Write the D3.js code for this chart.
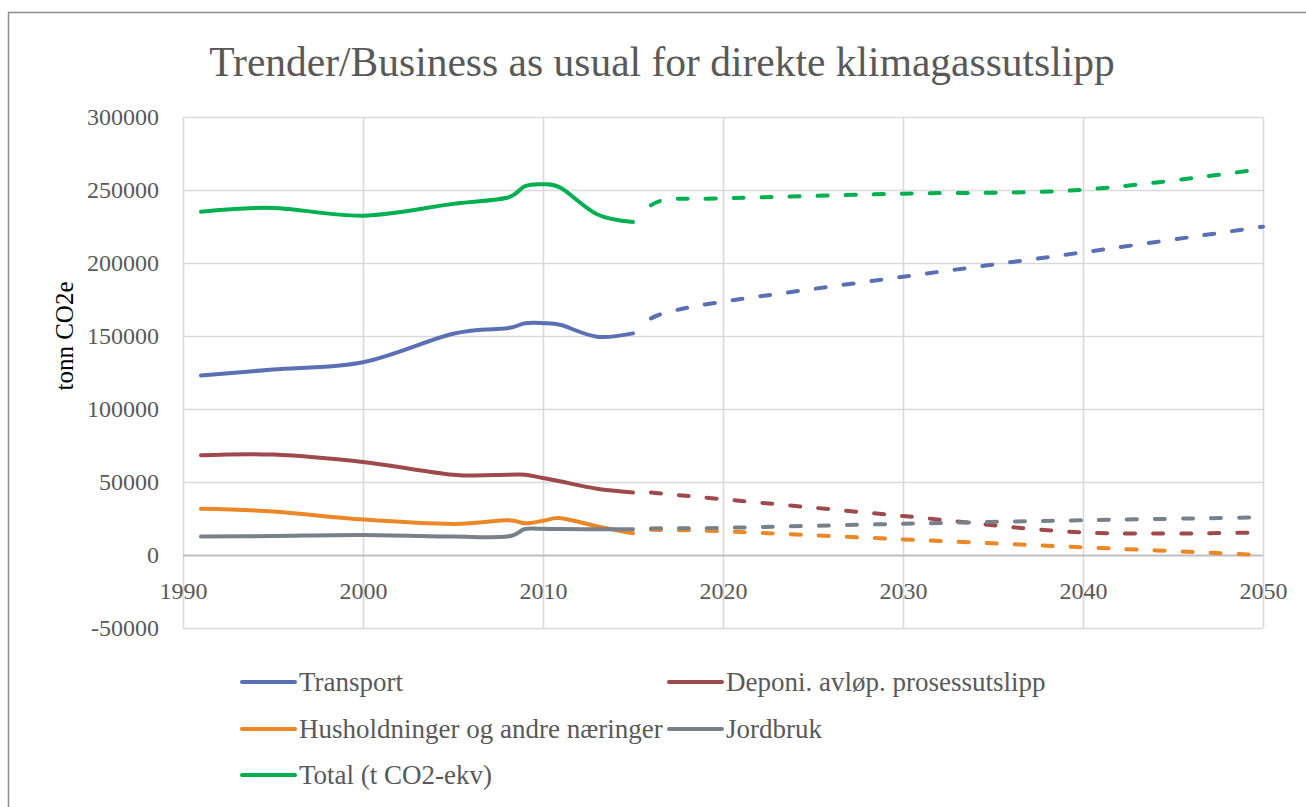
<!DOCTYPE html>
<html>
<head>
<meta charset="utf-8">
<script src="https://cdn.jsdelivr.net/npm/d3@7"></script>
<style>
  body { margin: 0; background: #fff; }
  svg { display: block; font-family: "Liberation Serif", "DejaVu Serif", serif; }
</style>
</head>
<body>
<div id="chart"></div>
<script>
// historical years (solid) and projection years (dashed)
const histYears = [1991, 1995, 2000, 2005, 2008, 2009, 2010, 2011, 2013, 2015];
const projYears = [2016, 2017, 2020, 2030, 2040, 2050];

const transportHist = [123000, 127000, 132000, 151500, 155300, 158700, 158800, 157500, 149500, 151800];
const deponiHist    = [68300, 68800, 63700, 55000, 55000, 55000, 52700, 50300, 45400, 42800];
const husHist       = [31600, 29800, 24300, 21300, 23800, 21700, 23400, 25200, 19700, 14900];
const jordHist      = [12600, 13000, 13700, 12600, 12600, 17800, 17900, 17800, 17600, 17700];
const totalHist     = [235100, 237700, 232400, 240500, 244700, 252700, 253900, 251300, 233400, 228100];

const transportProj = [162000, 166500, 173500, 190600, 207300, 224900];
const deponiProj    = [42800, 41600, 38200, 26700, 15500, 15500];
const husProj       = [17300, 17000, 16200, 10700, 5300, 0];
const jordProj      = [18200, 18300, 18600, 21400, 23800, 25800];
const totalProj     = [239500, 243700, 244300, 247500, 250200, 264500];

const seriesNames = ["Transport", "Deponi. avløp. prosessutslipp", "Husholdninger og andre næringer", "Jordbruk", "Total (t CO2-ekv)"];
const seriesColors = ["#5b6fb5", "#9e4a4c", "#eb8727", "#76818a", "#00b050"];

const xTicks = [1990, 2000, 2010, 2020, 2030, 2040, 2050];
const yTicks = [-50000, 0, 50000, 100000, 150000, 200000, 250000, 300000];

const series = [
  { name: seriesNames[0], color: seriesColors[0], hist: transportHist, proj: transportProj },
  { name: seriesNames[1], color: seriesColors[1], hist: deponiHist, proj: deponiProj },
  { name: seriesNames[2], color: seriesColors[2], hist: husHist, proj: husProj },
  { name: seriesNames[3], color: seriesColors[3], hist: jordHist, proj: jordProj },
  { name: seriesNames[4], color: seriesColors[4], hist: totalHist, proj: totalProj },
];

const W = 1306, H = 807;
const svg = d3.select("#chart").append("svg").attr("width", W).attr("height", H);
const serif = '"Liberation Serif", "DejaVu Serif", serif';

// chart frame
svg.append("rect")
  .attr("x", 8.5).attr("y", 12.5).attr("width", W + 20).attr("height", H + 20)
  .attr("fill", "none").attr("stroke", "#8c8c8c").attr("stroke-width", 1.5);

const x = d3.scaleLinear().domain([1990, 2050]).range([183, 1263]);
const y = d3.scaleLinear().domain([-50000, 300000]).range([628, 117]);

// title
svg.append("text")
  .attr("x", 662).attr("y", 76)
  .attr("text-anchor", "middle")
  .attr("fill", "#595959")
  .style("font-size", "41.5px")
  .text("Trender/Business as usual for direkte klimagassutslipp");

// vertical gridlines
svg.append("g")
  .attr("transform", `translate(0,${y(-50000)})`)
  .call(d3.axisBottom(x).tickValues(xTicks).tickSize(-(y(-50000) - y(300000))).tickFormat(""))
  .call(g => g.select(".domain").remove())
  .call(g => g.selectAll("line").attr("stroke", "#d9d9d9").attr("stroke-width", 1.6));

// horizontal gridlines + y labels
svg.append("g")
  .attr("transform", `translate(${x(1990)},0)`)
  .attr("font-family", serif)
  .attr("font-size", 24)
  .call(d3.axisLeft(y).tickValues(yTicks).tickSize(-(x(2050) - x(1990))).tickPadding(24).tickFormat(d => d))
  .attr("font-family", serif)
  .attr("font-size", 24)
  .call(g => g.select(".domain").remove())
  .call(g => g.selectAll("line")
    .attr("stroke", d => d === 0 ? "#bfbfbf" : "#d9d9d9")
    .attr("stroke-width", d => d === 0 ? 2 : 1.6))
  .call(g => g.selectAll("text").attr("fill", "#595959"));

// x labels below the zero line
svg.append("g")
  .attr("transform", `translate(0,${y(0)})`)
  .call(d3.axisBottom(x).tickValues(xTicks).tickSize(0).tickFormat(d => d))
  .attr("font-family", serif)
  .attr("font-size", 24)
  .call(g => g.select(".domain").remove())
  .call(g => g.selectAll("text")
    .attr("y", 36).attr("dy", "0.35em")
    .attr("fill", "#595959"));

// y axis title
svg.append("text")
  .attr("transform", "translate(73,336) rotate(-90)")
  .attr("text-anchor", "middle")
  .attr("fill", "#000")
  .style("font-size", "25px")
  .text("tonn CO2e");

const line = d3.line()
  .x(d => x(d[0]))
  .y(d => y(d[1]))
  .curve(d3.curveCardinal.tension(0));

const lines = svg.append("g").attr("fill", "none").attr("stroke-width", 4);

series.forEach(s => {
  lines.append("path")
    .datum(histYears.map((yr, i) => [yr, s.hist[i]]))
    .attr("stroke", s.color)
    .attr("stroke-linecap", "round")
    .attr("d", line);
  lines.append("path")
    .datum(projYears.map((yr, i) => [yr, s.proj[i]]))
    .attr("stroke", s.color)
    .attr("stroke-linecap", "round")
    .attr("stroke-dasharray", "10,18")
    .attr("d", line);
});

// legend
const legendPos = [[242, 682], [669, 682], [242, 729], [669, 729], [242, 775]];
const legend = svg.append("g");
series.forEach((s, i) => {
  const [lx, ly] = legendPos[i];
  const item = legend.append("g").attr("transform", `translate(${lx},${ly})`);
  item.append("line")
    .attr("x1", 0).attr("x2", 53).attr("y1", 0).attr("y2", 0)
    .attr("stroke", s.color).attr("stroke-width", 4).attr("stroke-linecap", "round");
  item.append("text")
    .attr("x", 57).attr("y", 0).attr("dy", "0.35em")
    .attr("fill", "#595959")
    .style("font-size", "27px")
    .text(s.name);
});
</script>
</body>
</html>
